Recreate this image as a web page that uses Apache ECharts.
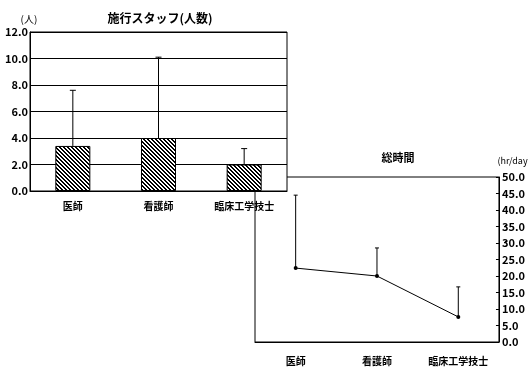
<!DOCTYPE html>
<html><head><meta charset="utf-8">
<script src="https://cdn.jsdelivr.net/npm/echarts@6/dist/echarts.min.js"></script>
<style>html,body{margin:0;padding:0;background:#fff}#c{width:528px;height:373px}</style>
</head><body><div id="c"></div>
<script>
const categories = ['医師', '看護師', '臨床工学技士'];
const staffMean = [3.4, 4.0, 2.0];
const staffUpper = [7.6, 10.1, 3.2];
const hoursMean = [22.4, 20.0, 7.6];
const hoursUpper = [44.5, 28.5, 16.7];

const FONT = '"Noto Sans CJK JP", "Noto Sans", sans-serif';

// hatch pattern (diagonal lines, top-left to bottom-right)
const tile = document.createElement('canvas');
tile.width = 4; tile.height = 4;
const g = tile.getContext('2d');
g.fillStyle = '#fff'; g.fillRect(0, 0, 4, 4);
g.fillStyle = '#000';
for (let y = 0; y < 4; y++) {
  for (let x = 0; x < 4; x++) {
    const d = ((x - y) % 4 + 4) % 4;
    if (d === 0 || d === 1) g.fillRect(x, y, 1, 1);
  }
}

function errRender(cap) {
  return function (params, api) {
    const i = api.value(0);
    const p1 = api.coord([i, api.value(1)]);
    const p2 = api.coord([i, api.value(2)]);
    return {
      type: 'group',
      children: [
        { type: 'line', shape: { x1: p1[0], y1: p1[1], x2: p2[0], y2: p2[1] }, style: { stroke: '#000', lineWidth: 1 } },
        { type: 'line', shape: { x1: p2[0] - cap, y1: p2[1], x2: p2[0] + cap, y2: p2[1] }, style: { stroke: '#000', lineWidth: 1 } }
      ]
    };
  };
}

const lbl = { fontFamily: FONT, color: '#000', fontWeight: 'bold' };
const chart = echarts.init(document.getElementById('c'), null, { renderer: 'canvas' });
chart.setOption({
  animation: false,
  backgroundColor: '#fff',
  textStyle: { fontFamily: FONT, color: '#000' },
  title: [
    { text: '施行スタッフ(人数)', left: 155, top: 7, textAlign: 'center', textStyle: Object.assign({ fontSize: 12 }, lbl) },
    { text: '(人)', left: 24, top: 9, textAlign: 'center', textStyle: { fontFamily: FONT, fontSize: 10, fontWeight: 'normal', color: '#000' } },
    { text: '総時間', left: 393, top: 147, textAlign: 'center', textStyle: Object.assign({ fontSize: 11 }, lbl) },
    { text: '(hr/day)', left: 509, top: 151, textAlign: 'center', textStyle: { fontFamily: FONT, fontSize: 9, fontWeight: 'normal', color: '#000' } }
  ],
  grid: [
    { left: 255, top: 177, width: 255, height: 165, show: true, borderColor: '#000', borderWidth: 1, backgroundColor: '#fff', z: 0 },
    { left: 30, top: 32, width: 257, height: 159, show: true, borderColor: '#000', borderWidth: 1, backgroundColor: '#fff', z: 1 }
  ],
  xAxis: [
    { type: 'category', gridIndex: 0, data: categories, z: 0,
      axisLine: { lineStyle: { color: '#000' } },
      axisTick: { inside: true, length: 3, lineStyle: { color: '#000' } },
      axisLabel: Object.assign({ fontSize: 10, margin: 14 }, lbl) },
    { type: 'category', gridIndex: 1, data: categories, z: 2,
      axisLine: { lineStyle: { color: '#000' } },
      axisTick: { inside: true, length: 3, lineStyle: { color: '#000' } },
      axisLabel: Object.assign({ fontSize: 10, margin: 10 }, lbl) }
  ],
  yAxis: [
    { type: 'value', gridIndex: 0, position: 'right', min: 0, max: 50, interval: 5, z: 0,
      axisLine: { show: true, lineStyle: { color: '#000' } },
      axisTick: { show: true, inside: true, length: 3, lineStyle: { color: '#000' } },
      splitLine: { show: false },
      axisLabel: Object.assign({ fontSize: 11, margin: 3, formatter: v => v.toFixed(1) }, lbl) },
    { type: 'value', gridIndex: 1, min: 0, max: 12, interval: 2, z: 2,
      axisLine: { show: true, lineStyle: { color: '#000' } },
      axisTick: { show: false },
      splitLine: { show: true, lineStyle: { color: '#000', width: 1 } },
      axisLabel: Object.assign({ fontSize: 11, margin: 2, formatter: v => v.toFixed(1) }, lbl) }
  ],
  series: [
    { type: 'line', xAxisIndex: 0, yAxisIndex: 0, data: hoursMean, z: 0,
      symbol: 'circle', symbolSize: 4, lineStyle: { color: '#000', width: 1 }, itemStyle: { color: '#000' } },
    { type: 'custom', xAxisIndex: 0, yAxisIndex: 0, z: 0, renderItem: errRender(2),
      data: categories.map((c, i) => [i, hoursMean[i], hoursUpper[i]]) },
    { type: 'bar', xAxisIndex: 1, yAxisIndex: 1, data: staffMean, barWidth: 35, z: 3,
      itemStyle: { color: { image: tile, repeat: 'repeat' }, borderColor: '#000', borderWidth: 1 } },
    { type: 'custom', xAxisIndex: 1, yAxisIndex: 1, z: 4, renderItem: errRender(3),
      data: categories.map((c, i) => [i, staffMean[i], staffUpper[i]]) }
  ]
});
</script></body></html>
